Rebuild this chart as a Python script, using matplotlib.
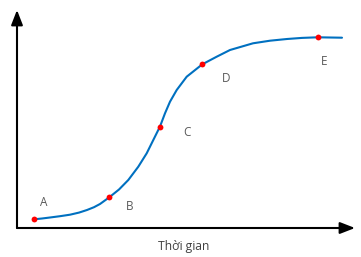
import matplotlib.pyplot as plt
from matplotlib.patches import FancyArrowPatch

# curve (time, level), origin at the axes corner
t_curve = [17, 25, 33, 43, 53, 62, 70, 77, 83, 92.3, 102, 111.3, 121.3, 129.7,
           136.3, 143, 148, 153, 159.7, 169.7, 185.3, 199.7, 213, 236, 253,
           270, 285, 300.7, 325]
y_curve = [8.7, 9.5, 10.5, 11.8, 13.3, 15.4, 18, 20.8, 24, 30.7, 38.5, 48, 61.3,
           74.7, 88, 101.5, 114.7, 126.3, 138, 151.3, 163.7, 171.3, 178, 184.7,
           187.3, 189, 190.1, 190.7, 190.3]

# labelled points
names = ['A', 'B', 'C', 'D', 'E']
t_pts = [17.3, 92.3, 143, 185.3, 300.7]
y_pts = [8.7, 30.7, 101.5, 163.7, 190.7]
offsets = [(9, 17), (20, -9), (27, -6), (24, -14), (6, -24)]

x_label = 'Thời gian'

plt.rcParams['font.family'] = ['Open Sans', 'DejaVu Sans']

fig = plt.figure(figsize=(3.61, 2.57), dpi=100)
ax = fig.add_axes([17 / 361, 29 / 257, 338 / 361, 218 / 257])
ax.set_xlim(0, 338)
ax.set_ylim(0, 218)
ax.axis('off')

# axes drawn as arrows
for start, end in [((0, 0), (338, 0)), ((0, 0), (0, 218))]:
    ar = FancyArrowPatch(start, end, arrowstyle='-|>,head_length=0.9,head_width=0.35',
                         mutation_scale=10, lw=1.5, color='black',
                         shrinkA=0, shrinkB=0, clip_on=False)
    ax.add_patch(ar)

ax.plot(t_curve, y_curve, color='#0070C0', lw=1.5, solid_capstyle='round',
        solid_joinstyle='round', clip_on=False)
ax.plot(t_pts, y_pts, 'o', color='#FF0000', ms=4.2, mec='none', clip_on=False, zorder=3)

for n, t, y, off in zip(names, t_pts, y_pts, offsets):
    ax.annotate(n, (t, y), xytext=off, textcoords='offset pixels',
                ha='center', va='center', fontsize=8.5, color='#595959')

fig.text(183.5 / 361, 1 - 246.5 / 257, x_label, ha='center', va='center',
         fontsize=8.7, color='#404040')

fig.savefig('out.png', dpi=100)
